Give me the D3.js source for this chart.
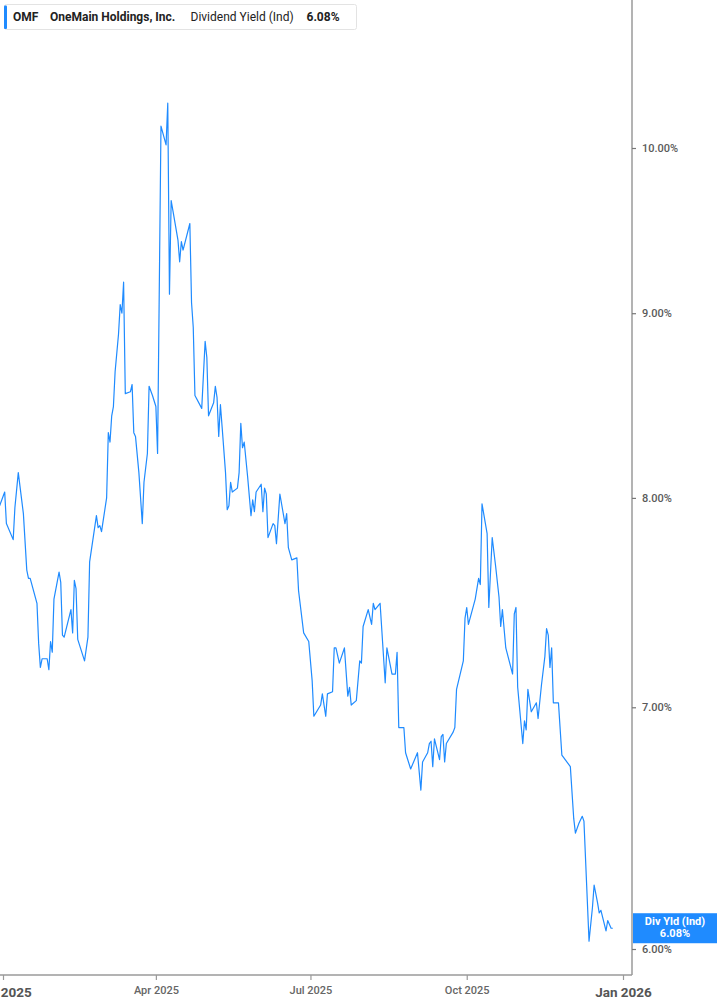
<!DOCTYPE html>
<html><head><meta charset="utf-8">
<script src="https://cdn.jsdelivr.net/npm/d3@7"></script>
<style>
body{margin:0;background:#fff;}
svg{display:block;font-family:Roboto,"Noto Sans",sans-serif;}
</style>
</head><body>
<svg id="chart" width="717" height="1005"></svg>
<script>
const dates = [
"2024-12-30","2025-01-02","2025-01-03","2025-01-07","2025-01-08","2025-01-10","2025-01-13","2025-01-15","2025-01-16","2025-01-17",
"2025-01-21","2025-01-22","2025-01-23","2025-01-24","2025-01-27","2025-01-28","2025-01-29","2025-01-30","2025-01-31","2025-02-03",
"2025-02-04","2025-02-05","2025-02-06","2025-02-10","2025-02-11","2025-02-12","2025-02-13","2025-02-14","2025-02-18","2025-02-20",
"2025-02-21","2025-02-25","2025-02-26","2025-02-27","2025-02-28","2025-03-03","2025-03-04","2025-03-05","2025-03-06","2025-03-07",
"2025-03-08","2025-03-10","2025-03-11","2025-03-12","2025-03-13","2025-03-14","2025-03-17","2025-03-18","2025-03-19","2025-03-20",
"2025-03-22","2025-03-24","2025-03-25","2025-03-27","2025-03-28","2025-03-30","2025-04-01","2025-04-02","2025-04-04","2025-04-07",
"2025-04-08","2025-04-09","2025-04-10","2025-04-11","2025-04-14","2025-04-15","2025-04-16","2025-04-17","2025-04-21","2025-04-22",
"2025-04-23","2025-04-24","2025-04-28","2025-04-30","2025-05-01","2025-05-02","2025-05-05","2025-05-06","2025-05-07","2025-05-08",
"2025-05-09","2025-05-10","2025-05-12","2025-05-13","2025-05-14","2025-05-15","2025-05-16","2025-05-19","2025-05-20","2025-05-21",
"2025-05-22","2025-05-23","2025-05-25","2025-05-27","2025-05-28","2025-05-29","2025-05-30","2025-06-02","2025-06-03","2025-06-04",
"2025-06-05","2025-06-06","2025-06-09","2025-06-10","2025-06-11","2025-06-13","2025-06-16","2025-06-17","2025-06-18","2025-06-20",
"2025-06-23","2025-06-24","2025-06-27","2025-06-30","2025-07-02","2025-07-03","2025-07-07","2025-07-08","2025-07-10","2025-07-11",
"2025-07-14","2025-07-15","2025-07-16","2025-07-18","2025-07-21","2025-07-23","2025-07-24","2025-07-25","2025-07-28","2025-07-30",
"2025-07-31","2025-08-01","2025-08-04","2025-08-06","2025-08-07","2025-08-08","2025-08-11","2025-08-14","2025-08-15","2025-08-18",
"2025-08-20","2025-08-21","2025-08-22","2025-08-25","2025-08-26","2025-08-29","2025-09-02","2025-09-04","2025-09-05","2025-09-08",
"2025-09-09","2025-09-10","2025-09-11","2025-09-12","2025-09-15","2025-09-16","2025-09-17","2025-09-18","2025-09-19","2025-09-23",
"2025-09-24","2025-09-25","2025-09-29","2025-09-30","2025-10-01","2025-10-02","2025-10-06","2025-10-08","2025-10-09","2025-10-10",
"2025-10-13","2025-10-14","2025-10-16","2025-10-18","2025-10-20","2025-10-21","2025-10-22","2025-10-24","2025-10-28","2025-10-29",
"2025-10-30","2025-10-31","2025-11-03","2025-11-04","2025-11-05","2025-11-06","2025-11-08","2025-11-11","2025-11-12","2025-11-14",
"2025-11-16","2025-11-17","2025-11-18","2025-11-19","2025-11-20","2025-11-21","2025-11-24","2025-11-26","2025-11-27","2025-12-01",
"2025-12-03","2025-12-04","2025-12-06","2025-12-08","2025-12-09","2025-12-12","2025-12-14","2025-12-15","2025-12-17","2025-12-18",
"2025-12-19","2025-12-22","2025-12-23","2025-12-25","2025-12-26"
];
const yields = [
7.96,8.03,7.87,7.79,7.95,8.13,7.92,7.64,7.60,7.60,
7.48,7.29,7.18,7.22,7.22,7.17,7.30,7.25,7.50,7.63,
7.58,7.33,7.32,7.45,7.34,7.59,7.55,7.31,7.21,7.32,
7.68,7.91,7.85,7.86,7.83,8.00,8.34,8.29,8.43,8.48,
8.67,8.88,9.05,9.00,9.18,8.55,8.56,8.60,8.34,8.32,
8.13,7.87,8.08,8.23,8.59,8.54,8.48,8.23,10.14,10.02,
10.29,9.11,9.67,9.61,9.43,9.30,9.42,9.37,9.53,9.06,
8.92,8.54,8.47,8.84,8.75,8.43,8.50,8.59,8.53,8.32,
8.49,8.37,8.13,7.94,7.96,8.08,8.03,8.05,8.13,8.39,
8.26,8.29,8.11,7.91,7.99,7.93,8.03,8.07,7.93,8.05,
8.02,7.80,7.87,7.86,7.77,8.02,7.87,7.92,7.75,7.69,
7.70,7.54,7.34,7.30,7.12,6.96,7.01,7.06,6.96,7.06,
7.07,7.27,7.27,7.20,7.27,7.05,7.09,7.01,7.03,7.21,
7.20,7.37,7.45,7.38,7.48,7.45,7.48,7.11,7.27,7.15,
7.15,7.25,6.91,6.91,6.80,6.73,6.80,6.64,6.76,6.80,
6.84,6.85,6.74,6.86,6.77,6.87,6.88,6.76,6.84,6.89,
6.91,7.08,7.21,7.41,7.46,7.38,7.50,7.60,7.57,7.97,
7.82,7.46,7.80,7.66,7.51,7.37,7.45,7.27,7.15,7.43,
7.46,7.09,6.84,6.94,6.90,7.08,6.98,7.02,6.95,7.10,
7.23,7.36,7.33,7.18,7.27,7.02,7.02,6.79,6.78,6.74,
6.52,6.46,6.50,6.53,6.51,6.03,6.16,6.25,6.18,6.14,
6.15,6.07,6.11,6.08,6.08
];
const yTickValues = [6, 7, 8, 9, 10];
const xTickDates = ["2025-01-01","2025-04-01","2025-07-01","2025-10-01","2026-01-01"];
const xTickLabels = ["Jan 2025","Apr 2025","Jul 2025","Oct 2025","Jan 2026"];
const legendTicker = "OMF";
const legendName = "OneMain Holdings, Inc.";
const legendMetric = "Dividend Yield (Ind)";
const lastValue = 6.08;
const badgeTitle = "Div Yld (Ind)";

const parse = d3.utcParse("%Y-%m-%d");
const data = dates.map((d, i) => ({date: parse(d), value: yields[i]}));

const svg = d3.select("#chart");
const W = 717, H = 1005;
const plotRight = 632, plotBottom = 975;
const blue = "#1f8bff";
const axisColor = "#9a9a9a";
const textColor = "#5a5a5a";

const x = d3.scaleUtc().domain([parse(xTickDates[0]), parse(xTickDates[4])]).range([3, 623]);
const y = d3.scaleLog().domain([6, 10]).range([949, 148]);

svg.append("defs").append("clipPath").attr("id", "plotclip")
  .append("rect").attr("x", 0).attr("y", 0).attr("width", plotRight).attr("height", plotBottom);

// line
const line = d3.line().x(d => x(d.date)).y(d => y(d.value));
svg.append("path").datum(data)
  .attr("clip-path", "url(#plotclip)")
  .attr("fill", "none").attr("stroke", blue).attr("stroke-width", 1.2)
  .attr("stroke-linejoin", "round")
  .attr("d", line);

// x axis
const xAxis = d3.axisBottom(x)
  .tickValues(xTickDates.map(parse))
  .tickSize(5)
  .tickFormat((d, i) => xTickLabels[i]);
const gx = svg.append("g").attr("transform", `translate(0,${plotBottom})`).call(xAxis);
gx.select(".domain").attr("d", `M0,0H${plotRight}`).attr("stroke", axisColor).attr("stroke-width", 1.5);
gx.selectAll(".tick line").attr("stroke", axisColor).attr("stroke-width", 1.2);
gx.selectAll(".tick text")
  .attr("fill", textColor)
  .style("font-family", "Roboto, sans-serif")
  .each(function(d, i) {
    const isYear = xTickLabels[i].startsWith("Jan");
    d3.select(this)
      .attr("y", isYear ? 12 : 11)
      .attr("font-size", isYear ? 13.5 : 11)
      .attr("font-weight", isYear ? 700 : 500)
      .attr("fill", isYear ? "#555" : "#666");
  });

// y axis
const yAxis = d3.axisRight(y)
  .tickValues(yTickValues)
  .tickSize(4)
  .tickPadding(6)
  .tickFormat(d => d3.format(".2f")(d) + "%");
const gy = svg.append("g").attr("transform", `translate(${plotRight},0)`).call(yAxis);
gy.select(".domain").attr("d", `M0,0V${plotBottom}`).attr("stroke", axisColor).attr("stroke-width", 1.5);
gy.selectAll(".tick line").attr("stroke", "#777").attr("stroke-width", 1.2);
gy.selectAll(".tick text").attr("fill", textColor).attr("font-size", 11).attr("font-weight", 500)
  .style("font-family", "Roboto, sans-serif");

// last value badge
const by = y(lastValue);
const badge = svg.append("g");
badge.append("rect").attr("x", plotRight + 1).attr("y", by - 15).attr("width", W - plotRight - 1).attr("height", 30)
  .attr("fill", blue);
badge.append("text").attr("x", 675).attr("y", by - 3).attr("text-anchor", "middle")
  .attr("fill", "#fff").attr("font-size", 11).attr("font-weight", 700).text(badgeTitle);
badge.append("text").attr("x", 675).attr("y", by + 9).attr("text-anchor", "middle")
  .attr("fill", "#fff").attr("font-size", 11).attr("font-weight", 700).text(d3.format(".2f")(lastValue) + "%");

// legend
const lg = svg.append("g");
lg.append("rect").attr("x", 4.5).attr("y", 4.5).attr("width", 352).attr("height", 25).attr("rx", 2)
  .attr("fill", "#fff").attr("stroke", "#e3e3e3");
lg.append("rect").attr("x", 4).attr("y", 5.5).attr("width", 3).attr("height", 23.5).attr("rx", 1).attr("fill", blue);
const legendItems = [
  {t: legendTicker, x: 13, w: 700},
  {t: legendName, x: 50, w: 700},
  {t: legendMetric, x: 190.5, w: 400},
  {t: d3.format(".2f")(lastValue) + "%", x: 306.5, w: 700}
];
lg.selectAll("text.leg").data(legendItems).join("text").attr("class", "leg")
  .attr("x", d => d.x).attr("y", 21).attr("font-size", 12).attr("font-weight", d => d.w)
  .attr("fill", "#222").text(d => d.t);
</script>
</body></html>
